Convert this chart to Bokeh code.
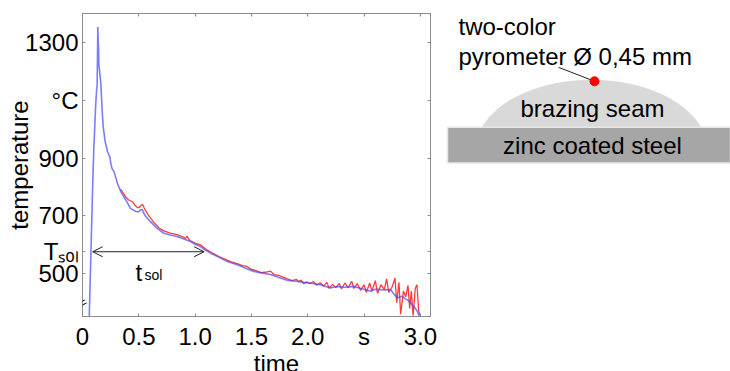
import numpy as np
from bokeh.plotting import figure
from bokeh.layouts import row, column
from bokeh.models import Range1d, FixedTicker, LinearAxis, Label, Arrow, OpenHead
from bokeh.core.properties import value
from bokeh.embed import file_html
from bokeh.resources import INLINE

FONT = "Liberation Sans"

# ---- data ----
blue_t = [0.060, 0.070, 0.080, 0.090, 0.100, 0.108, 0.112, 0.118, 0.126, 0.130, 0.136, 0.140,
          0.143, 0.146, 0.152, 0.163, 0.175, 0.184, 0.200, 0.222, 0.235, 0.243, 0.252, 0.262,
          0.280, 0.310, 0.340, 0.385, 0.426, 0.459, 0.486, 0.503, 0.515, 0.530, 0.544, 0.562,
          0.604, 0.663, 0.722, 0.780, 0.840, 0.900, 0.959, 1.000, 1.048, 1.090, 1.137, 1.226,
          1.285, 1.374, 1.450, 1.521, 1.600, 1.670, 1.750, 1.818, 1.900, 1.965, 2.040, 2.114,
          2.200, 2.260, 2.330, 2.410, 2.480, 2.560, 2.600, 2.646, 2.700, 2.735, 2.765, 2.795,
          2.820, 2.840, 2.870, 2.900, 2.940, 2.970, 2.990]
blue_T = [352, 500, 650, 800, 930, 1000, 1040, 1090, 1140, 1150, 1353, 1300,
          1280, 1220, 1200, 1158, 1060, 1008, 960, 922, 910, 905, 880, 864,
          853, 813, 784, 755, 726, 718, 714, 715, 721, 722, 709, 698,
          680, 657, 640, 634, 629, 620, 611, 602, 594, 582, 571, 554,
          542, 531, 519, 508, 502, 497, 486, 477, 474, 470, 466, 462,
          451, 456, 453, 456, 448, 439, 446, 445, 444, 445, 430, 416,
          420, 422, 412, 405, 388, 372, 353]

red_t = [0.340, 0.360, 0.385, 0.410, 0.444, 0.470, 0.490, 0.505, 0.520, 0.533, 0.545, 0.560,
         0.580, 0.604, 0.640, 0.680, 0.722, 0.780, 0.840, 0.900, 0.915, 0.930, 0.945, 0.959,
         1.000, 1.048, 1.090, 1.137, 1.200, 1.260, 1.320, 1.374, 1.420, 1.460, 1.500, 1.540,
         1.580, 1.620, 1.670, 1.700, 1.740, 1.780, 1.820, 1.860, 1.900, 1.920, 1.940, 1.965,
         1.990, 2.020, 2.050, 2.080, 2.110, 2.140, 2.170, 2.190, 2.220, 2.250, 2.280, 2.300,
         2.330, 2.360, 2.390, 2.410, 2.440, 2.470, 2.500, 2.520, 2.550, 2.570, 2.600, 2.620,
         2.650, 2.680, 2.700, 2.720, 2.750, 2.775, 2.790, 2.810, 2.825, 2.850, 2.870, 2.890,
         2.905, 2.920, 2.935, 2.955, 2.970, 2.985, 3.000]
red_T = [792, 780, 765, 755, 749, 735, 728, 730, 736, 740, 730, 718,
         705, 692, 675, 658, 648, 640, 635, 626, 622, 630, 618, 614,
         606, 600, 586, 575, 562, 551, 541, 535, 528, 525, 515, 511,
         504, 505, 509, 497, 494, 488, 482, 476, 480, 472, 478, 465,
         472, 466, 473, 460, 469, 457, 470, 450, 463, 452, 466, 447,
         468, 451, 474, 449, 466, 442, 462, 435, 468, 440, 476, 432,
         462, 445, 482, 435, 455, 485, 400, 470, 360, 440, 420, 460,
         380, 440, 355, 450, 462, 370, 355]

T_SOL = 576          # solidus temperature level (°C)
t_sol_start = 0.09   # arrow start (s)
t_sol_end = 1.08     # arrow end (s)

y_ticks = [500, T_SOL, 700, 900, 1100, 1300]
y_tick_labels = {500: "500", T_SOL: "T\u209b\u2092\u2097", 700: "700", 900: "900",
                 1100: "°C", 1300: "1300"}
x_ticks = [0, 0.5, 1.0, 1.5, 2.0, 2.5, 3.0]
x_tick_labels = {0: "0", 0.5: "0.5", 1: "1.0", 1.5: "1.5", 2: "2.0", 2.5: "s", 3: "3.0"}

GRAY = "#8c8c8c"
TXT_SHIFT = 7

# chart frame spans page x 82..430, y 13..317
p = figure(width=438, height=352, output_backend="svg", toolbar_location=None, title=None,
           x_range=Range1d(0, 3.09), y_range=Range1d(352, 1400),
           min_border_left=82, min_border_right=8, min_border_top=13, min_border_bottom=35,
           x_axis_type=None, y_axis_type=None)
p.grid.visible = False
p.outline_line_color = GRAY

def style_axis(ax, show_labels):
    ax.axis_line_color = GRAY
    ax.major_tick_line_color = GRAY
    ax.major_tick_in = 3
    ax.major_tick_out = 0
    ax.minor_tick_line_color = None
    ax.major_label_text_font = FONT
    ax.major_label_text_color = "black"
    ax.axis_label_text_font = FONT
    ax.axis_label_text_font_style = "normal"
    ax.axis_label_text_color = "black"
    if show_labels:
        ax.major_label_text_font_size = "24px"
    else:
        ax.major_label_text_font_size = "0px"
        ax.major_label_standoff = 0

xb = LinearAxis(ticker=FixedTicker(ticks=x_ticks), major_label_overrides=x_tick_labels)
style_axis(xb, True)
xb.major_label_standoff = 6
p.add_layout(xb, "below")
xt = LinearAxis(ticker=FixedTicker(ticks=x_ticks))
style_axis(xt, False)
p.add_layout(xt, "above")
yl = LinearAxis(ticker=FixedTicker(ticks=y_ticks), major_label_overrides=y_tick_labels,
                axis_label="temperature")
style_axis(yl, True)
yl.major_label_standoff = 4
yl.axis_label_text_font_size = "24px"
yl.axis_label_standoff = -11
p.add_layout(yl, "left")
yr = LinearAxis(ticker=FixedTicker(ticks=y_ticks))
style_axis(yr, False)
p.add_layout(yr, "right")

p.line(red_t, red_T, line_color="#ff1a1a", line_width=1.3, line_alpha=0.85)
p.line(blue_t, blue_T, line_color="#4545ff", line_width=1.6, line_alpha=0.7)

p.add_layout(Arrow(start=OpenHead(size=10, line_color="#222222", line_width=1),
                   end=OpenHead(size=10, line_color="#222222", line_width=1),
                   x_start=t_sol_start, y_start=T_SOL, x_end=t_sol_end, y_end=T_SOL,
                   line_color="#222222", line_width=1))

def lab(x, y, text, size, align="left", baseline="alphabetic", angle=0):
    p.add_layout(Label(x=x, y=y, text=text, text_font=FONT, text_font_size=size,
                       text_align=align, text_baseline=baseline, angle=angle,
                       text_color="black"))

# t_sol inside the frame
lab(0.47, 505, "t", "24px")
lab(0.55, 497, "sol", "14px")
# axis break mark
lab(0.0, 400, "=", "14px", align="center", baseline="middle", angle=0.5)

# ---- schematic on the right (page coordinates) ----
q = figure(width=292, height=352, output_backend="svg", toolbar_location=None, title=None,
           x_range=Range1d(438, 730), y_range=Range1d(317, 13),
           min_border_left=0, min_border_right=0, min_border_top=13, min_border_bottom=35,
           x_axis_type=None, y_axis_type=None)
q.grid.visible = False
q.outline_line_color = None

cx, cy, a, b, base = 591, 150, 115.5, 70, 127
ang = np.linspace(0, np.pi, 181)
ex = cx + a * np.cos(ang)
ey = cy - b * np.sin(ang)
keep = ey <= base
sx = np.concatenate([[ex[keep][0]], ex[keep], [ex[keep][-1]]])
sy = np.concatenate([[base], ey[keep], [base]])
q.patch(sx, sy, fill_color="#d9d9d9", line_color="#d9d9d9")
q.quad(left=447, right=730, top=127, bottom=163, fill_color="#a6a6a6",
       line_color="#e6e6e6", line_width=1.5)
q.line([558, 594], [67, 81], line_color="#222222", line_width=1)
q.scatter([594], [81], size=9, fill_color="#ff0000", line_color="#ff0000")

def qt(fig, x, y, text, align="left"):
    fig.text([x], [y - TXT_SHIFT], text=[text], text_font=value(FONT), text_font_size="24px",
             text_align=align, text_baseline="alphabetic", text_color="black")

qt(q, 458, 33, "two-color")
qt(q, 458, 63, "pyrometer Ø 0,45 mm")
qt(q, 592, 115, "brazing seam", "center")
qt(q, 592, 152, "zinc coated steel", "center")

# ---- strip below for the x-axis title (page coordinates) ----
r = figure(width=730, height=19, output_backend="svg", toolbar_location=None, title=None,
           x_range=Range1d(0, 730), y_range=Range1d(371, 352), min_border=0,
           x_axis_type=None, y_axis_type=None)
r.grid.visible = False
r.outline_line_color = None
qt(r, 276, 370, "time", "center")

layout = column(row(p, q), r)
open("out.html", "w").write(file_html(layout, INLINE))
